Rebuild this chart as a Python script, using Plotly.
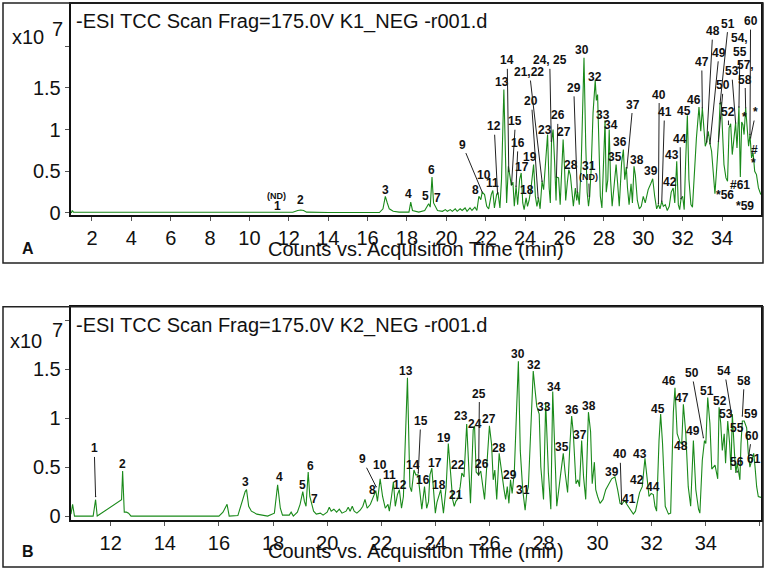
import plotly.graph_objects as go

W, H = 765, 578

# ---------------- data: panel A (K1_NEG), counts in units of 1e7 ----------------
a_trace = [
    [0.95, 0.0], [1.0, 0.03], [1.06, 0.01], [1.5, 0.01], [3, 0.01], [5, 0.008], [7, 0.008],
    [9, 0.005], [11, 0.005], [12.2, 0.008], [12.45, 0.03], [12.6, 0.035], [12.75, 0.03],
    [12.9, 0.01], [14, 0.005], [16.6, 0.005], [16.78, 0.05], [16.9, 0.2], [17.0, 0.12],
    [17.1, 0.05], [17.3, 0.02], [17.6, 0.01], [18.1, 0.01], [18.19, 0.13], [18.28, 0.03],
    [18.6, 0.01], [18.9, 0.03], [19.02, 0.09], [19.1, 0.11], [19.18, 0.07], [19.27, 0.43],
    [19.35, 0.12], [19.45, 0.07], [19.55, 0.03], [19.8, 0.02], [19.95, 0.04], [20.05, 0.02],
    [20.2, 0.04], [20.3, 0.02], [20.45, 0.05], [20.55, 0.02], [20.7, 0.05], [20.8, 0.03],
    [20.95, 0.06], [21.05, 0.02], [21.2, 0.06], [21.3, 0.03], [21.45, 0.07], [21.55, 0.03],
    [21.65, 0.2], [21.75, 0.16], [21.82, 0.25], [21.94, 0.22], [22.05, 0.08], [22.15, 0.05],
    [22.28, 0.22], [22.36, 0.27], [22.44, 0.06], [22.55, 0.22], [22.62, 0.25], [22.72, 0.06],
    [22.8, 0.4], [22.92, 1.48], [23.0, 0.6], [23.06, 0.12], [23.15, 0.56], [23.22, 0.45],
    [23.3, 0.33], [23.38, 0.37], [23.45, 0.08], [23.54, 0.32], [23.62, 0.1], [23.72, 0.4],
    [23.8, 0.48], [23.88, 0.12], [23.95, 0.04], [24.05, 0.18], [24.12, 0.08], [24.2, 0.15],
    [24.3, 0.3], [24.43, 0.58], [24.52, 0.2], [24.6, 0.08], [24.68, 0.18], [24.76, 0.05],
    [24.86, 0.38], [24.94, 0.28], [25.04, 0.65], [25.14, 0.94], [25.22, 0.3], [25.28, 0.12],
    [25.34, 0.85], [25.42, 1.0], [25.5, 0.6], [25.57, 0.15], [25.6, 0.43], [25.7, 0.42],
    [25.78, 0.1], [25.85, 0.5], [25.93, 0.88], [26.0, 0.55], [26.06, 0.15], [26.15, 0.38],
    [26.22, 0.52], [26.3, 0.45], [26.38, 0.25], [26.45, 0.08], [26.55, 0.3], [26.62, 0.15],
    [26.67, 0.25], [26.75, 0.1], [26.85, 0.6], [26.99, 1.86], [27.08, 0.8], [27.15, 0.25],
    [27.22, 0.08], [27.28, 0.2], [27.35, 0.5], [27.45, 1.2], [27.56, 1.59], [27.62, 1.35],
    [27.68, 1.42], [27.75, 0.9], [27.82, 0.2], [27.9, 0.06], [28.0, 0.8], [28.06, 1.11],
    [28.12, 0.25], [28.2, 0.4], [28.27, 1.0], [28.34, 0.4], [28.42, 0.08], [28.52, 0.3],
    [28.62, 0.58], [28.7, 0.35], [28.78, 0.08], [28.9, 0.6], [28.99, 0.76], [29.06, 0.4],
    [29.14, 0.55], [29.2, 0.3], [29.28, 0.1], [29.38, 0.35], [29.45, 0.12], [29.53, 0.56],
    [29.6, 0.45], [29.7, 0.15], [29.8, 0.05], [29.9, 0.08], [30.0, 0.2], [30.1, 0.12],
    [30.25, 0.28], [30.38, 0.35], [30.48, 0.41], [30.58, 0.2], [30.68, 0.05], [30.77, 0.1],
    [30.85, 0.05], [30.94, 0.14], [31.02, 0.08], [31.12, 0.1], [31.22, 0.03], [31.32, 0.08],
    [31.42, 0.25], [31.52, 0.3], [31.6, 0.12], [31.7, 0.62], [31.78, 0.1], [31.85, 0.04],
    [31.92, 0.17], [32.0, 0.2], [32.08, 0.04], [32.15, 0.6], [32.24, 1.17], [32.32, 0.4],
    [32.42, 0.1], [32.5, 0.07], [32.6, 0.5], [32.7, 0.9], [32.83, 1.27], [32.92, 0.98],
    [33.0, 1.26], [33.08, 1.0], [33.15, 0.8], [33.22, 0.85], [33.3, 0.98], [33.39, 0.83],
    [33.47, 0.74], [33.55, 0.5], [33.64, 0.23], [33.72, 0.5], [33.82, 0.86], [33.9, 1.31],
    [33.96, 1.33], [34.03, 0.95], [34.1, 0.58], [34.2, 0.42], [34.28, 0.38], [34.36, 1.02],
    [34.44, 1.07], [34.52, 0.7], [34.6, 0.9], [34.69, 1.08], [34.76, 0.78], [34.86, 1.27],
    [34.93, 0.43], [35.0, 1.09], [35.06, 1.06], [35.12, 0.94], [35.2, 1.26], [35.28, 1.05],
    [35.35, 0.8], [35.42, 0.94], [35.5, 0.66], [35.58, 0.72], [35.66, 0.5], [35.75, 0.46],
    [35.85, 0.3], [35.97, 0.22],
]

# ---------------- data: panel B (K2_NEG) ----------------
b_trace = [
    [10.53, 0.02], [10.59, 0.12], [10.66, 0.0], [11.35, 0.0], [11.44, 0.167], [11.5, 0.0],
    [12.4, 0.167], [12.44, 0.46], [12.5, 0.04], [12.58, 0.04], [12.66, 0.03], [12.75, 0.0],
    [16.0, 0.0], [16.15, 0.04], [16.3, 0.12], [16.38, 0.0], [16.7, 0.005], [16.85, 0.15],
    [16.97, 0.25], [17.02, 0.27], [17.1, 0.1], [17.2, 0.05], [17.4, 0.02], [17.8, 0.0],
    [18.05, 0.03], [18.17, 0.32], [18.27, 0.08], [18.35, 0.01], [18.6, 0.01], [18.67, 0.04],
    [18.75, 0.0], [18.9, 0.04], [19.0, 0.12], [19.1, 0.25], [19.16, 0.15], [19.22, 0.1],
    [19.3, 0.45], [19.36, 0.2], [19.42, 0.13], [19.5, 0.05], [19.6, 0.02], [19.75, 0.03],
    [19.85, 0.01], [20.0, 0.04], [20.08, 0.09], [20.15, 0.05], [20.25, 0.07], [20.35, 0.04],
    [20.45, 0.07], [20.55, 0.03], [20.7, 0.05], [20.78, 0.09], [20.85, 0.05], [20.93, 0.1],
    [21.0, 0.05], [21.1, 0.03], [21.22, 0.06], [21.32, 0.1], [21.4, 0.17], [21.48, 0.08],
    [21.6, 0.12], [21.7, 0.2], [21.8, 0.26], [21.86, 0.15], [21.96, 0.38], [22.05, 0.2],
    [22.15, 0.08], [22.25, 0.12], [22.3, 0.05], [22.38, 0.2], [22.45, 0.35], [22.52, 0.1],
    [22.6, 0.22], [22.67, 0.27], [22.75, 0.08], [22.82, 0.2], [22.97, 1.41], [23.06, 0.3],
    [23.12, 0.25], [23.21, 0.47], [23.28, 0.42], [23.36, 0.42], [23.43, 0.25], [23.5, 0.07],
    [23.6, 0.3], [23.68, 0.08], [23.75, 0.15], [23.8, 0.42], [23.87, 0.49], [23.94, 0.25],
    [24.0, 0.03], [24.06, 0.14], [24.2, 0.27], [24.3, 0.03], [24.4, 0.3], [24.48, 0.74],
    [24.56, 0.45], [24.64, 0.17], [24.7, 0.1], [24.76, 0.15], [24.84, 0.18], [24.92, 0.3],
    [24.98, 0.44], [25.06, 0.4], [25.16, 0.94], [25.23, 0.57], [25.3, 0.13], [25.4, 0.88],
    [25.45, 0.92], [25.51, 0.45], [25.6, 0.42], [25.68, 0.46], [25.75, 0.3], [25.82, 0.17],
    [25.9, 0.5], [26.0, 0.92], [26.08, 0.73], [26.14, 0.37], [26.2, 0.47], [26.27, 0.17],
    [26.36, 0.64], [26.45, 0.43], [26.54, 0.27], [26.6, 0.17], [26.66, 0.3], [26.72, 0.13],
    [26.78, 0.37], [26.84, 0.23], [26.92, 0.45], [26.98, 0.9], [27.07, 1.58], [27.14, 0.67],
    [27.23, 0.27], [27.32, 0.06], [27.38, 0.23], [27.44, 0.3], [27.53, 0.84], [27.62, 1.48],
    [27.69, 1.28], [27.75, 1.12], [27.84, 1.04], [27.9, 0.5], [28.0, 0.17], [28.08, 1.16],
    [28.18, 0.44], [28.27, 0.07], [28.34, 1.27], [28.42, 0.67], [28.49, 0.1], [28.62, 0.4],
    [28.73, 0.64], [28.8, 0.44], [28.89, 0.24], [28.98, 0.75], [29.04, 1.02], [29.1, 0.85],
    [29.2, 0.33], [29.27, 0.37], [29.33, 0.3], [29.41, 0.77], [29.48, 0.4], [29.56, 0.17],
    [29.66, 1.06], [29.74, 0.86], [29.8, 0.33], [29.88, 0.55], [29.93, 0.27], [30.0, 0.2],
    [30.09, 0.13], [30.2, 0.17], [30.3, 0.27], [30.52, 0.38], [30.64, 0.4], [30.74, 0.27],
    [30.83, 0.13], [30.89, 0.12], [31.0, 0.16], [31.08, 0.12], [31.2, 0.07], [31.32, 0.02],
    [31.4, 0.05], [31.55, 0.24], [31.65, 0.3], [31.75, 0.59], [31.82, 0.41], [31.9, 0.2],
    [31.98, 0.23], [32.06, 0.22], [32.12, 0.1], [32.18, 0.05], [32.27, 0.77], [32.33, 1.04],
    [32.4, 0.74], [32.5, 0.1], [32.62, 0.02], [32.7, 0.03], [32.8, 1.06], [32.86, 1.31],
    [32.94, 0.84], [33.0, 0.8], [33.05, 0.75], [33.11, 0.74], [33.17, 1.14], [33.26, 0.84],
    [33.35, 0.3], [33.44, 0.1], [33.54, 0.77], [33.63, 0.27], [33.73, 0.07], [33.78, 0.03],
    [33.87, 0.57], [33.95, 0.77], [34.0, 0.74], [34.07, 1.21], [34.15, 0.95], [34.22, 0.48],
    [34.34, 0.52], [34.44, 0.38], [34.49, 1.11], [34.55, 0.95], [34.61, 0.67], [34.68, 0.84],
    [34.73, 0.54], [34.81, 0.97], [34.88, 0.74], [34.93, 0.47], [34.98, 1.04], [35.06, 0.64],
    [35.11, 0.44], [35.16, 0.54], [35.2, 0.47], [35.26, 0.37], [35.3, 0.74], [35.35, 0.97],
    [35.42, 0.97], [35.51, 0.9], [35.57, 0.64], [35.63, 0.5], [35.7, 0.57], [35.77, 0.64],
    [35.82, 0.5], [35.88, 0.3], [35.94, 0.2], [36.0, 0.19], [36.04, 0.19],
]

# peak labels: (text, text_x, text_y, arrow_x, arrow_y)  arrow None => plain label
a_labels = [
    ("1", 11.43, 0.08, None, None), ("2", 12.61, 0.15, None, None), ("3", 16.89, 0.28, None, None),
    ("4", 18.1, 0.23, None, None), ("5", 18.95, 0.2, None, None), ("6", 19.25, 0.52, None, None),
    ("7", 19.56, 0.18, None, None), ("8", 21.48, 0.28, None, None), ("9", 20.81, 0.82, 21.82, 0.25),
    ("10", 21.9, 0.45, None, None), ("11", 22.36, 0.36, None, None), ("12", 22.43, 1.04, 22.6, 0.23),
    ("13", 22.8, 1.57, None, None), ("14", 23.09, 1.83, 23.17, 0.5), ("15", 23.51, 1.1, 23.31, 0.34),
    ("16", 23.64, 0.84, 23.54, 0.32), ("17", 23.85, 0.55, None, None), ("18", 24.07, 0.28, None, None),
    ("19", 24.27, 0.67, None, None), ("20", 24.32, 1.34, 24.66, 0.18), ("21,22", 24.22, 1.69, 24.86, 0.38),
    ("23", 25.0, 1.0, None, None), ("24, 25", 25.25, 1.83, 25.33, 0.86), ("26", 25.67, 1.17, 25.59, 0.43),
    ("27", 25.96, 0.97, None, None), ("28", 26.33, 0.58, None, None), ("29", 26.47, 1.5, 26.65, 0.25),
    ("30", 26.89, 1.95, None, None), ("31", 27.23, 0.56, None, None), ("32", 27.53, 1.63, None, None),
    ("33", 27.95, 1.17, None, None), ("34", 28.36, 1.06, None, None), ("35", 28.58, 0.67, None, None),
    ("36", 28.83, 0.85, None, None), ("37", 29.47, 1.3, 29.17, 0.54), ("38", 29.68, 0.63, None, None),
    ("39", 30.4, 0.5, None, None), ("40", 30.81, 1.42, 30.77, 0.11), ("41", 31.08, 1.21, 30.94, 0.14),
    ("42", 31.36, 0.37, None, None), ("43", 31.45, 0.69, None, None), ("44", 31.87, 0.89, 31.92, 0.17),
    ("45", 32.09, 1.22, None, None), ("46", 32.6, 1.36, None, None), ("47", 32.97, 1.81, 33.0, 1.26),
    ("48", 33.53, 2.18, 33.22, 0.85), ("49", 33.85, 1.92, 33.39, 0.83), ("50", 34.07, 1.53, 33.82, 0.86),
    ("51", 34.32, 2.27, 33.9, 1.31), ("52", 34.32, 1.21, 34.33, 1.06), ("53", 34.49, 1.7, 34.69, 1.08),
    ("54,", 34.91, 2.1, None, None), ("55", 34.91, 1.93, 34.86, 1.27), ("57,", 35.2, 1.77, None, None),
    ("58", 35.17, 1.6, 35.2, 1.26), ("60", 35.45, 2.3, 35.42, 0.94), ("*56", 34.15, 0.22, None, None),
    ("#61", 34.91, 0.34, None, None), ("*59", 35.17, 0.08, None, None), ("*", 35.12, 1.15, None, None),
    ("*", 35.72, 1.21, 35.45, 0.9), ("#", 35.67, 0.76, None, None), ("*", 35.62, 0.6, None, None),
]
a_small_labels = [("(ND)", 11.38, 0.2, None, None), ("(ND)", 27.23, 0.43, 27.26, 0.2)]

b_labels = [
    ("1", 11.39, 0.69, 11.44, 0.2), ("2", 12.44, 0.53, None, None), ("3", 17.0, 0.345, None, None),
    ("4", 18.23, 0.4, None, None), ("5", 19.1, 0.32, None, None), ("6", 19.37, 0.51, None, None),
    ("7", 19.52, 0.17, None, None), ("8", 21.67, 0.27, None, None), ("9", 21.3, 0.58, 21.81, 0.3),
    ("10", 21.96, 0.52, None, None), ("11", 22.3, 0.42, None, None), ("12", 22.7, 0.32, None, None),
    ("13", 22.92, 1.48, None, None), ("14", 23.19, 0.52, None, None), ("15", 23.46, 0.97, 23.37, 0.44),
    ("16", 23.56, 0.37, None, None), ("17", 23.97, 0.54, None, None), ("18", 24.15, 0.32, None, None),
    ("19", 24.32, 0.8, None, None), ("21", 24.77, 0.22, None, None), ("22", 24.84, 0.52, None, None),
    ("23", 24.95, 1.02, None, None), ("24", 25.47, 0.94, None, None), ("25", 25.63, 1.25, 25.6, 0.42),
    ("26", 25.71, 0.53, None, None), ("27", 26.0, 0.99, None, None), ("28", 26.37, 0.69, None, None),
    ("29", 26.76, 0.42, None, None), ("30", 27.07, 1.65, None, None), ("31", 27.25, 0.27, None, None),
    ("32", 27.65, 1.54, None, None), ("33", 28.02, 1.11, None, None), ("34", 28.39, 1.32, None, None),
    ("35", 28.7, 0.7, None, None), ("36", 29.04, 1.08, None, None), ("37", 29.35, 0.83, None, None),
    ("38", 29.68, 1.12, None, None), ("39", 30.52, 0.45, None, None), ("40", 30.83, 0.63, 30.89, 0.12),
    ("41", 31.17, 0.17, None, None), ("42", 31.45, 0.37, None, None), ("43", 31.57, 0.63, None, None),
    ("44", 32.06, 0.3, None, None), ("45", 32.25, 1.09, None, None), ("46", 32.64, 1.38, None, None),
    ("47", 33.11, 1.2, None, None), ("48", 33.08, 0.71, None, None), ("49", 33.54, 0.87, None, None),
    ("50", 33.48, 1.46, 33.91, 0.8), ("51", 34.03, 1.28, None, None), ("52", 34.53, 1.17, None, None),
    ("53", 34.73, 1.04, None, None), ("54", 34.69, 1.48, 34.96, 1.02), ("55", 35.14, 0.9, None, None),
    ("56", 35.14, 0.55, 35.16, 0.45), ("58", 35.42, 1.38, 35.35, 1.02), ("59", 35.66, 1.04, None, None),
    ("60", 35.7, 0.82, 35.6, 0.64), ("61", 35.78, 0.58, None, None),
]

a_title = "-ESI TCC Scan Frag=175.0V K1_NEG -r001.d"
b_title = "-ESI TCC Scan Frag=175.0V K2_NEG -r001.d"
x_title = "Counts vs. Acquisition Time (min)"
a_xticks = list(range(2, 36, 2))
b_xticks = list(range(12, 38, 2))
y_ticks = [0, 0.5, 1, 1.5, 2]
y_ticktext = ["0", "0.5", "1", "1.5", ""]

# ---------------- figure ----------------
FONT = "Arial, Liberation Sans, sans-serif"
GREEN = "#1a8a1a"


def px_x(p):
    return p / W


def px_y(p):
    return 1 - p / H


fig = go.Figure()
fig.add_trace(go.Scatter(x=[p[0] for p in a_trace], y=[p[1] for p in a_trace], mode="lines",
                         line=dict(color=GREEN, width=1.1), xaxis="x", yaxis="y", hoverinfo="skip"))
fig.add_trace(go.Scatter(x=[p[0] for p in b_trace], y=[p[1] for p in b_trace], mode="lines",
                         line=dict(color=GREEN, width=1.1), xaxis="x2", yaxis="y2", hoverinfo="skip"))

axis_common = dict(showgrid=False, zeroline=False, showline=True, mirror=True, linecolor="#111",
                   linewidth=2, ticks="outside", ticklen=4, tickwidth=1, tickcolor="#555",
                   tickfont=dict(family=FONT, size=20, color="#111"))

xdom = [px_x(70.7), px_x(761)]
fig.update_layout(
    width=W, height=H, autosize=False, showlegend=False,
    margin=dict(l=0, r=0, t=0, b=0), paper_bgcolor="white", plot_bgcolor="white",
    xaxis=dict(domain=xdom, range=[0.92, 35.98], tickvals=a_xticks, anchor="y", **axis_common),
    yaxis=dict(domain=[px_y(218.5), px_y(4)], range=[-0.03, 2.506], tickvals=y_ticks,
               ticktext=y_ticktext, anchor="x", **axis_common),
    xaxis2=dict(domain=xdom, range=[10.52, 36.04], tickvals=b_xticks,
                ticktext=[str(v) if v < 36 else "" for v in b_xticks], anchor="y2", **axis_common),
    yaxis2=dict(domain=[px_y(527.3), px_y(311.7)], range=[-0.04, 2.129], tickvals=y_ticks,
                ticktext=y_ticktext, anchor="x2", **axis_common),
)

anns = []


def add_labels(labels, xr, yr, size):
    for text, tx, ty, hx, hy in labels:
        f = dict(family=FONT, size=size, color="#111")
        if hx is None:
            anns.append(dict(x=tx, y=ty, xref=xr, yref=yr, text="<b>%s</b>" % text, showarrow=False,
                             font=f, xanchor="center", yanchor="middle"))
        else:
            anns.append(dict(x=hx, y=hy, ax=tx, ay=ty, xref=xr, yref=yr, axref=xr, ayref=yr,
                             text="<b>%s</b>" % text, showarrow=True, arrowhead=6, arrowsize=0.35,
                             arrowwidth=1, arrowcolor="#222", standoff=0, startstandoff=0, font=f))


add_labels(a_labels, "x", "y", 12)
add_labels(a_small_labels, "x", "y", 9)
add_labels(b_labels, "x2", "y2", 12)


def paper_text(text, x, y, size, bold=False, xanchor="center"):
    anns.append(dict(x=px_x(x), y=px_y(y), xref="paper", yref="paper", showarrow=False,
                     text=("<b>%s</b>" % text) if bold else text, xanchor=xanchor, yanchor="middle",
                     font=dict(family=FONT, size=size, color="#111")))


paper_text(a_title, 74, 22, 20, xanchor="left")
paper_text(b_title, 74, 330, 20, xanchor="left")
paper_text("x10", 28, 38, 20)
paper_text("7", 58, 29, 20)
paper_text("x10", 26, 346, 20)
paper_text("7", 57, 335, 20)
paper_text(x_title, 416, 253, 20)
paper_text(x_title, 416, 559, 20)
paper_text("A", 28, 251.5, 16, bold=True)
paper_text("B", 28, 559, 16, bold=True)
fig.update_layout(annotations=anns)

# outer panel frames
for top, bot in [(3, 266.7), (311, 575)]:
    fig.add_shape(type="rect", xref="paper", yref="paper", x0=px_x(3), x1=px_x(763),
                  y0=px_y(bot), y1=px_y(top), line=dict(color="#222", width=1.5))

fig.write_html("out.html", config={"displayModeBar": False},
               post_script="document.body.style.margin='0';document.body.style.overflow='hidden';")
